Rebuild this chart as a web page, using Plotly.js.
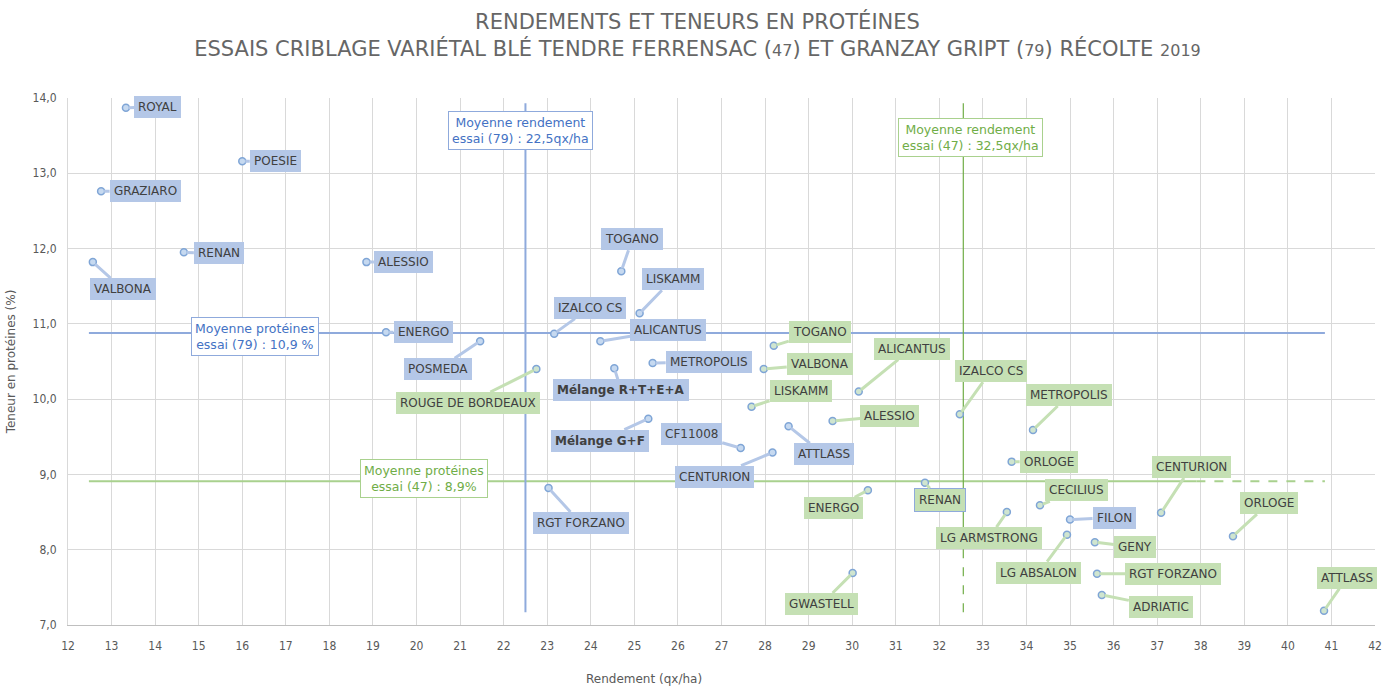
<!DOCTYPE html>
<html>
<head>
<meta charset="utf-8">
<script src="https://cdn.plot.ly/plotly-3.0.1.min.js"></script>
<style>html,body{margin:0;padding:0;background:#fff;}#chart{width:1395px;height:689px;}</style>
</head>
<body>
<div id="chart"></div>
<script>
// ---- Data: Granzay Gript (79) ----
const names79 = ["ROYAL","POESIE","GRAZIARO","RENAN","VALBONA","ALESSIO","ENERGO","POSMEDA","IZALCO CS","LISKAMM","TOGANO","ALICANTUS","<b>Mélange R+T+E+A</b>","METROPOLIS","<b>Mélange G+F</b>","CF11008","CENTURION","RGT FORZANO","ATTLASS","FILON"];
const yield79 = [13.33,16.0,12.76,14.66,12.57,18.85,19.3,21.46,23.16,25.12,24.70,24.22,24.54,25.42,25.32,27.44,28.17,23.03,28.54,35.0];
const prot79  = [13.87,13.16,12.76,11.95,11.82,11.82,10.89,10.77,10.87,11.14,11.70,10.77,10.41,10.48,9.74,9.35,9.29,8.82,9.64,8.40];

// ---- Data: Ferrensac (47) ----
const names47 = ["ROUGE DE BORDEAUX","TOGANO","VALBONA","LISKAMM","ALICANTUS","ALESSIO","IZALCO CS","METROPOLIS","ORLOGE","ENERGO","RENAN","CECILIUS","LG ARMSTRONG","LG ABSALON","GENY","RGT FORZANO","ADRIATIC","GWASTELL","CENTURION","ORLOGE","ATTLASS"];
const yield47 = [22.75,28.2,27.97,27.69,30.15,29.55,32.47,34.15,33.66,30.36,31.67,34.31,33.55,34.93,35.57,35.62,35.73,30.01,37.09,38.74,40.83];
const prot47  = [10.40,10.71,10.40,9.90,10.10,9.71,9.80,9.59,9.17,8.79,8.89,8.59,8.50,8.20,8.10,7.68,7.40,7.69,8.49,8.18,7.19];

// ---- Trial means ----
const meanYield79 = 22.5, meanYield47 = 32.55;
const meanProt79 = 10.88, meanProt47 = 8.91;
const meanLabels = {
  y79: "Moyenne rendement<br>essai (79) : 22,5qx/ha",
  y47: "Moyenne rendement<br>essai (47) : 32,5qx/ha",
  p79: "Moyenne protéines<br>essai (79) : 10,9 %",
  p47: "Moyenne protéines<br>essai (47) : 8,9%"
};

// ---- Layout-only: label offsets (pixels) ----
const off79 = [[32,-1],[33,0],[44,0],[35,1],[30,27],[37,0],[37,0],[-42,28],[36,-26],[33,-34],[11,-32],[68,-11],[7,22],[56,-1],[-48,22],[-49,-14],[-58,24],[32,35],[35,28],[44,-2]];
const off47 = [[-68,34],[46,-14],[56,-5],[49,-16],[53,-43],[57,-5],[31,-43],[36,-35],[37,0],[-34,18],[15,17],[37,-15],[-18,26],[-28,38],[40,5],[76,0],[59,12],[-31,31],[30,-46],[36,-33],[23,-33]];

const BLUE_FILL = '#b4c7e7', GREEN_FILL = '#c5e0b4';
const BLUE_LINE = '#8faadc', GREEN_LINE = '#a9d18e', GREEN_DARK = '#70ad47';
const LBL_FONT = {family: 'DejaVu Sans, sans-serif', size: 12, color: '#404040'};

const traces = [
  // mean lines
  {x:[12.48,40.85], y:[meanProt79,meanProt79], mode:'lines', line:{color:BLUE_LINE,width:2}, hoverinfo:'skip'},
  {x:[12.48,37.9], y:[meanProt47,meanProt47], mode:'lines', line:{color:GREEN_LINE,width:2}, hoverinfo:'skip'},
  {x:[37.9,40.85], y:[meanProt47,meanProt47], mode:'lines', line:{color:GREEN_LINE,width:2,dash:'dash'}, hoverinfo:'skip'},
  {x:[meanYield79,meanYield79], y:[7.17,13.93], mode:'lines', line:{color:BLUE_LINE,width:2}, hoverinfo:'skip'},
  {x:[meanYield47,meanYield47], y:[8.3,13.93], mode:'lines', line:{color:GREEN_DARK,width:1.2}, hoverinfo:'skip'},
  {x:[meanYield47,meanYield47], y:[7.17,8.3], mode:'lines', line:{color:GREEN_DARK,width:1.2,dash:'dash'}, hoverinfo:'skip'},
  // points
  {x:yield79, y:prot79, text:names79, mode:'markers', marker:{size:7,color:'#c6d9f0',line:{color:'#7fa5d6',width:1.5}}},
  {x:yield47, y:prot47, text:names47, mode:'markers', marker:{size:7,color:'#cfe5cf',line:{color:'#7fa5d6',width:1.5}}}
];

const annotations = [];
function addLabels(names, xs, ys, offs, fill) {
  names.forEach((n, i) => {
    const special = (fill === GREEN_FILL && n === 'RENAN');
    annotations.push({
      x: xs[i], y: ys[i], text: n, showarrow: true, arrowhead: 0,
      arrowwidth: 3, arrowcolor: fill, ax: offs[i][0], ay: offs[i][1],
      standoff: 3, bgcolor: fill, borderpad: 4,
      bordercolor: special ? BLUE_LINE : fill, borderwidth: special ? 1 : 0,
      font: LBL_FONT
    });
  });
}
addLabels(names79, yield79, prot79, off79, BLUE_FILL);
addLabels(names47, yield47, prot47, off47, GREEN_FILL);

function meanBox(text, x, y, col, border) {
  annotations.push({x:x, y:y, text:text, showarrow:false, bgcolor:'#ffffff',
    bordercolor:border, borderwidth:1, borderpad:3,
    font:{family:'DejaVu Sans, sans-serif', size:12.5, color:col}});
}
meanBox(meanLabels.y79, 22.38, 13.57, '#4472c4', BLUE_LINE);
meanBox(meanLabels.y47, 32.72, 13.47, '#70ad47', GREEN_LINE);
meanBox(meanLabels.p79, 16.30, 10.83, '#4472c4', BLUE_LINE);
meanBox(meanLabels.p47, 20.18, 8.94, '#70ad47', GREEN_LINE);

// x-axis title (off-centre as in the original)
annotations.push({xref:'paper', yref:'paper', x:0.4407, y:-0.103, yanchor:'middle', showarrow:false,
  text:'Rendement (qx/ha)', font:{family:'DejaVu Sans, sans-serif', size:12, color:'#595959'}});

const sm = s => '<span style="font-size:16px">' + s + '</span>';
const layout = {
  width:1395, height:689,
  margin:{l:68, r:20, t:98, b:64},
  paper_bgcolor:'#ffffff', plot_bgcolor:'#ffffff',
  showlegend:false,
  separators:', ',
  title:{
    text:'RENDEMENTS ET TENEURS EN PROTÉINES<br>ESSAIS CRIBLAGE VARIÉTAL BLÉ TENDRE FERRENSAC (' + sm('47') + ') ET GRANZAY GRIPT (' + sm('79') + ') RÉCOLTE ' + sm('2019'),
    font:{family:'DejaVu Sans, sans-serif', size:21, color:'#666666'},
    x:0.5, xanchor:'center', y:0.958, yanchor:'top', yref:'container'
  },
  xaxis:{
    range:[12,42], dtick:1, tick0:12, showgrid:true, gridcolor:'#d9d9d9', gridwidth:1,
    zeroline:false, showline:true, linecolor:'#bfbfbf', linewidth:1, ticks:'',
    ticklabelstandoff:10,
    tickfont:{family:'Liberation Sans Narrow, DejaVu Sans Condensed, sans-serif', size:12, color:'#595959'}
  },
  yaxis:{
    range:[7,14], dtick:1, tick0:7, tickformat:'.1f', showgrid:true, gridcolor:'#d9d9d9', gridwidth:1,
    zeroline:false, showline:true, linecolor:'#d9d9d9', ticks:'',
    ticklabelstandoff:8,
    tickfont:{family:'Liberation Sans Narrow, DejaVu Sans Condensed, sans-serif', size:12, color:'#595959'},
    title:{text:'Teneur en protéines (%)', standoff:14, font:{family:'DejaVu Sans, sans-serif', size:12, color:'#595959'}}
  },
  annotations: annotations
};

Plotly.newPlot('chart', traces, layout, {displayModeBar:false, staticPlot:true});
</script>
</body>
</html>
